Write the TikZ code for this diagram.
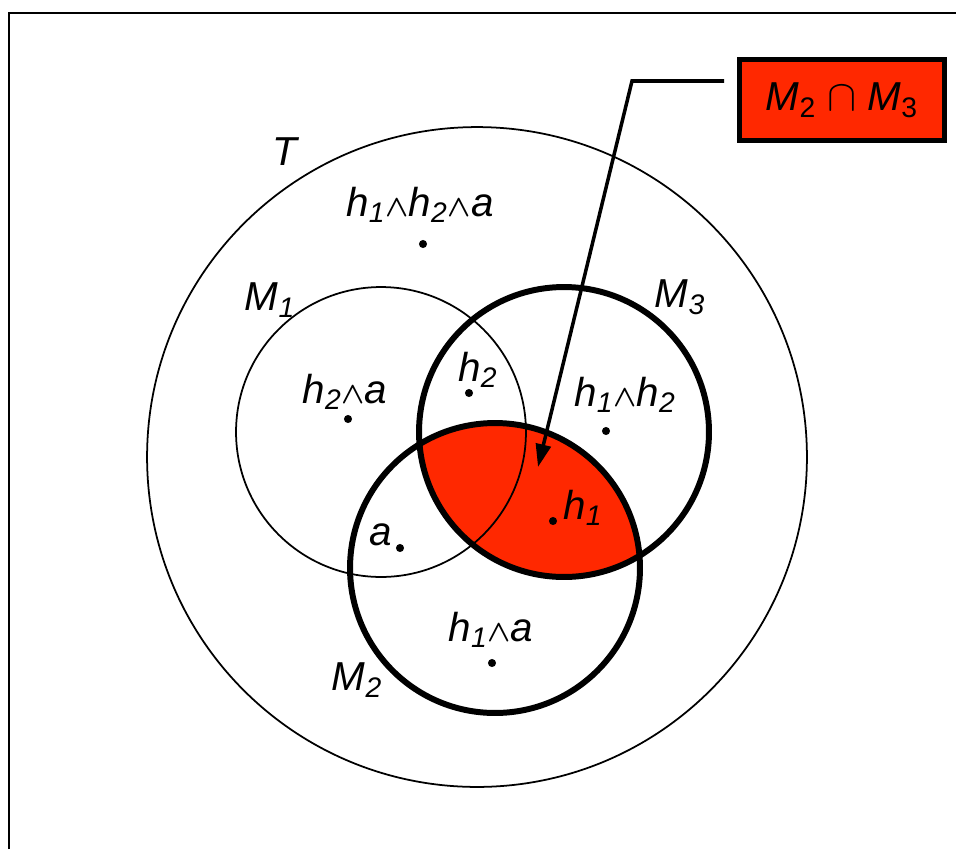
\documentclass[tikz,border=0pt]{standalone}
\usepackage{fontspec}
\setmainfont{Liberation Sans}
\usetikzlibrary{arrows.meta,positioning}
\definecolor{meet}{RGB}{255,40,0}
\newcommand{\wg}{{\fontsize{19}{19}\selectfont\boldmath\(\wedge\)}}
\tikzset{
  frame/.style={line width=1.1pt},
  set/.style={line width=1pt},
  model/.style={line width=3.4pt},
  dot/.style={circle,fill=black,inner sep=0pt,minimum size=4.6pt},
  lbl/.style={font=\fontsize{23}{27}\selectfont\itshape,inner sep=1pt},
  tag/.style={draw,line width=3pt,fill=meet,font=\fontsize{23}{27}\selectfont,
    minimum width=4.1cm,minimum height=1.62cm,inner sep=0pt},
  pointer/.style={line width=2pt,-{Triangle[length=13pt,width=8.5pt]}},
}

\begin{document}
\begin{tikzpicture}[x=0.02cm,y=-0.02cm]
    \useasboundingbox (0,0) rectangle (956,849);
    \draw[frame] (9,849) -- (9,13) -- (956,13);
    % ---- centres of the sets ----
    \coordinate (cT) at (477,457);
    \coordinate (c1) at (381,432);
    \coordinate (c2) at (495,568);
    \coordinate (c3) at (564,432);
    % ---- the shaded intersection M2 and M3 ----
    \begin{scope}
      \clip (c3) circle (2.9cm);
      \fill[meet] (c2) circle (2.9cm);
    \end{scope}
    \draw[set] (cT) circle (6.6cm);
    \draw[set] (c1) circle (2.9cm);
    \draw[model] (c2) circle (2.9cm);
    \draw[model] (c3) circle (2.9cm);
    % ---- set names ----
    \node[lbl] (T) at (285,152) {T};
    \node[lbl] (M1) at (270,300) {M\textsubscript{1}};
    \node[lbl] (M2) at (357,680) {M\textsubscript{2}};
    \node[lbl] (M3) at (680,297) {M\textsubscript{3}};
    % ---- points of the regions ----
    \foreach \n/\p in {haa/{(423,244)},hta/{(348,419)},ht/{(469,393)},hoo/{(606,431)},
                       pa/{(400,548)},po/{(553,521)},hoa/{(492,663)}}
      \node[dot] (\n) at \p {};
    \node[lbl] (lhaa) at (420,205) {h\textsubscript{1}\wg h\textsubscript{2}\wg a};
    \node[lbl] (lhta) at (345,392) {h\textsubscript{2}\wg a};
    \node[lbl] (lht) at (478,370) {h\textsubscript{2}};
    \node[lbl] (lhoo) at (625,395) {h\textsubscript{1}\wg h\textsubscript{2}};
    \node[lbl] (lpa) at (381,535) {a};
    \node[lbl] (lpo) at (583,508) {h\textsubscript{1}};
    \node[lbl] (lhoa) at (491,630) {h\textsubscript{1}\wg a};
    % ---- the callout ----
    \node[tag] (box) at (842,100) {\textit{M}\textsubscript{2} \(\cap\) \textit{M}\textsubscript{3}};
    \coordinate (start) at (724,81);
    \coordinate (elbow) at (632,81);
    \coordinate (tip) at (538,467);
    \draw[pointer] (start) -- (elbow) -- (tip);
  \end{tikzpicture}
\end{document}
